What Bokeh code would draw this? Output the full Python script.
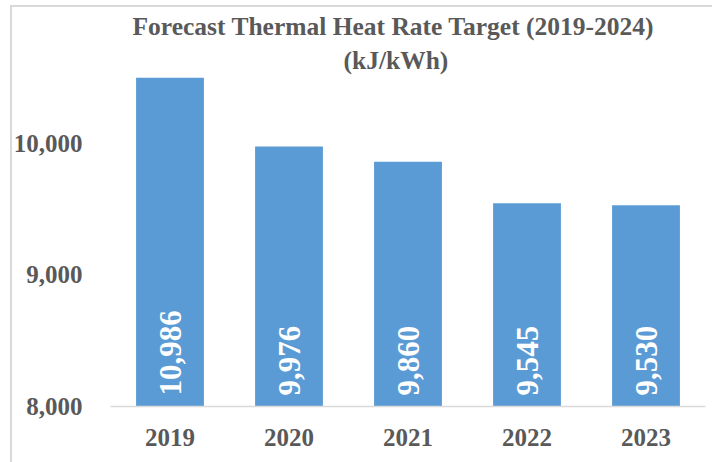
from math import pi

from bokeh.plotting import figure
from bokeh.models import (Range1d, NumeralTickFormatter, FixedTicker, Title,
                          ColumnDataSource)
from bokeh.core.properties import value
from bokeh.embed import file_html
from bokeh.resources import INLINE

# Forecast thermal heat rate targets, kJ/kWh
years = ["2019", "2020", "2021", "2022", "2023"]
heat_rate = [10986, 9976, 9860, 9545, 9530]
y_ticks = [8000, 9000, 10000]

FONT = "Liberation Serif"
GREY = "#595959"
BAR_BLUE = "#5B9BD5"
LINE_GREY = "#D9D9D9"

source = ColumnDataSource(dict(
    year=years,
    rate=heat_rate,
    label=[f"{v:,}" for v in heat_rate],
))

# light grey chart-area edge on the left and top, painted behind a
# transparent canvas border
edge = f"linear-gradient({LINE_GREY}, {LINE_GREY})"
host_style = {
    "background": (f"{edge} 10px 5px / 2px 100% no-repeat, "
                   f"{edge} 10px 5px / 100% 2px no-repeat, white"),
}

p = figure(x_range=years, y_range=Range1d(8000, 10500),
           width=712, height=462,
           output_backend="svg", toolbar_location=None,
           min_border_left=110, min_border_right=7,
           min_border_top=77, min_border_bottom=56,
           styles=host_style)
p.border_fill_color = None
p.background_fill_color = "white"

p.vbar(x="year", top="rate", bottom=8000, width=0.57, source=source,
       fill_color=BAR_BLUE, line_color=None)

# value labels, rotated, sitting at the foot of each bar
p.text(x="year", y=8000, text="label", source=source,
       angle=pi / 2, text_align="left", text_baseline="middle",
       y_offset=-11, text_color="white",
       text_font=value(FONT), text_font_style="bold",
       text_font_size="31px")

# titles (second line added first so it sits closest to the plot)
p.add_layout(Title(text="(kJ/kWh)", align="left", offset=233,
                   text_font=FONT, text_font_style="bold",
                   text_font_size="25.5px", text_color=GREY, standoff=6), "above")
p.add_layout(Title(text="Forecast Thermal  Heat Rate Target (2019-2024)",
                   align="left", offset=22,
                   text_font=FONT, text_font_style="bold",
                   text_font_size="25.5px", text_color=GREY, standoff=0), "above")

p.xgrid.grid_line_color = None
p.ygrid.grid_line_color = None
p.outline_line_color = None

p.yaxis.ticker = FixedTicker(ticks=y_ticks)
p.yaxis.formatter = NumeralTickFormatter(format="0,0")
p.yaxis.axis_line_color = None
p.yaxis.major_tick_line_color = None
p.yaxis.minor_tick_line_color = None
p.yaxis.major_label_standoff = 22

p.xaxis.axis_line_color = LINE_GREY
p.xaxis.axis_line_width = 1.5
p.xaxis.major_tick_line_color = None
p.xaxis.major_label_standoff = 16

for ax in (p.xaxis, p.yaxis):
    ax.major_label_text_font = FONT
    ax.major_label_text_font_style = "bold"
    ax.major_label_text_font_size = "25px"
    ax.major_label_text_color = GREY

open("out.html", "w").write(file_html(p, INLINE))
